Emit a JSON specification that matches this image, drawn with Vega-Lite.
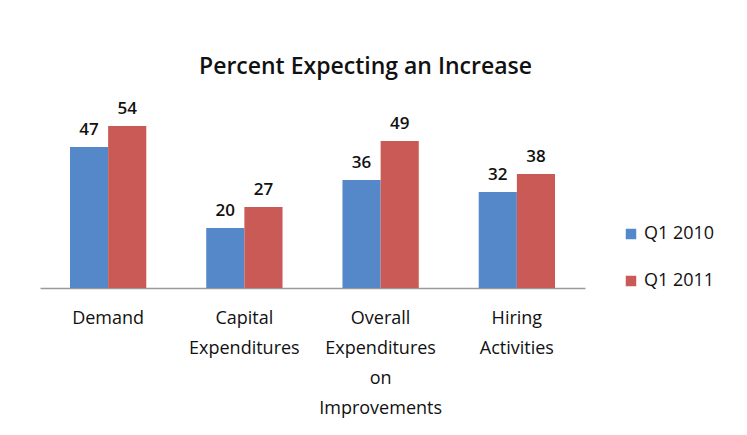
{
  "$schema": "https://vega.github.io/schema/vega-lite/v6.json",
  "width": 545,
  "height": 180,
  "autosize": {"type": "none"},
  "padding": {"left": 40, "top": 108, "right": 162, "bottom": 147},
  "background": "white",
  "config": {
    "view": {"stroke": null},
    "font": "Open Sans"
  },
  "title": {
    "text": "Percent Expecting an Increase",
    "fontSize": 23,
    "fontWeight": 600,
    "color": "#111111",
    "font": "Open Sans",
    "anchor": "middle",
    "dx": 53,
    "offset": 21
  },
  "data": {
    "values": [
      {"category": "Demand", "series": "Q1 2010", "value": 47},
      {"category": "Demand", "series": "Q1 2011", "value": 54},
      {"category": "Capital Expenditures", "series": "Q1 2010", "value": 20},
      {"category": "Capital Expenditures", "series": "Q1 2011", "value": 27},
      {"category": "Overall Expenditures on Improvements", "series": "Q1 2010", "value": 36},
      {"category": "Overall Expenditures on Improvements", "series": "Q1 2011", "value": 49},
      {"category": "Hiring Activities", "series": "Q1 2010", "value": 32},
      {"category": "Hiring Activities", "series": "Q1 2011", "value": 38}
    ]
  },
  "encoding": {
    "x": {
      "field": "category",
      "type": "nominal",
      "sort": null,
      "scale": {"paddingInner": 0.44, "paddingOuter": 0.22},
      "axis": {
        "title": null,
        "labelAngle": 0,
        "ticks": false,
        "domainColor": "#9a9a9a",
        "domainWidth": 1.5,
        "labelFontSize": 18,
        "labelColor": "#111111",
        "labelFont": "Open Sans",
        "labelPadding": 21,
        "labelLineHeight": 30,
        "labelBaseline": "top",
        "labelExpr": "datum.value == 'Overall Expenditures on Improvements' ? ['Overall','Expenditures','on','Improvements'] : split(datum.value, ' ')"
      }
    },
    "xOffset": {"field": "series", "type": "nominal"},
    "y": {
      "field": "value",
      "type": "quantitative",
      "scale": {"domain": [0, 60]},
      "axis": null
    }
  },
  "layer": [
    {
      "mark": {"type": "bar"},
      "encoding": {
        "color": {
          "field": "series",
          "type": "nominal",
          "scale": {"range": ["#5588C9", "#C95A55"]},
          "legend": {
            "title": null,
            "orient": "none",
            "legendX": 582,
            "legendY": 117,
            "symbolType": "square",
            "symbolSize": 110,
            "labelFontSize": 18,
            "labelColor": "#111111",
            "labelFont": "Open Sans",
            "rowPadding": 29,
            "labelOffset": 4
          }
        }
      }
    },
    {
      "mark": {"type": "text", "baseline": "bottom", "dy": -8, "fontSize": 17, "fontWeight": 600, "color": "#111111", "font": "Open Sans"},
      "encoding": {
        "text": {"field": "value", "type": "quantitative"}
      }
    }
  ]
}
